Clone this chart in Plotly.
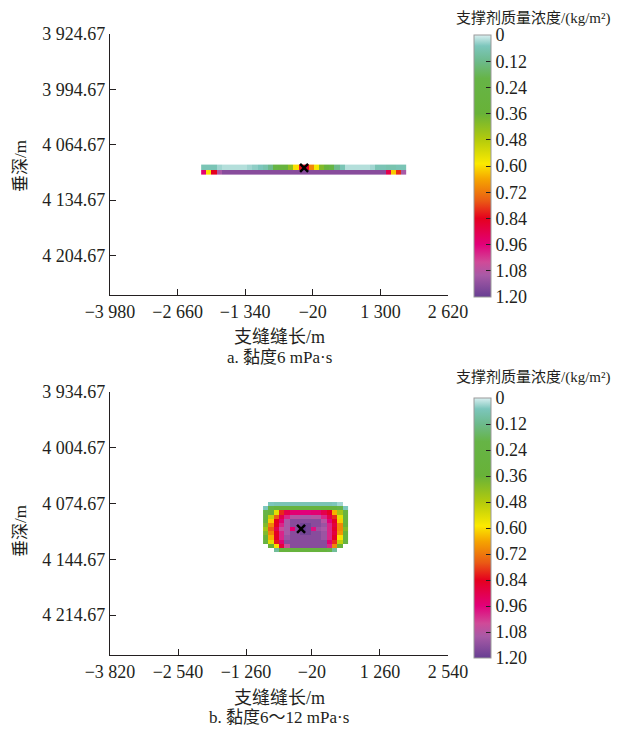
import plotly.graph_objects as go

# ---------------- data ----------------
# (a) viscosity 6 mPa·s : thin band, two cell rows
top_x = [-2150, -2050, -1950, -1850, -1750, -1650, -1550, -1450, -1350, -1250,
         -1150, -1050, -950, -850, -750, -650, -550, -450, -350, -250,
         -150, -50, 50, 150, 250, 350, 450, 550, 650, 750,
         850, 950, 1050, 1150, 1250, 1350, 1450, 1550, 1650, 1750]
top_y = [4093.0, 4099.4]
top_upper = [0.06, 0.06, 0.06, 0.03, 0.02, 0.02, 0.02, 0.02, 0.02, 0.03,
             0.04, 0.05, 0.07, 0.12, 0.22, 0.28, 0.30, 0.42, 0.60, 0.82,
             0.85, 0.70, 0.58, 0.40, 0.30, 0.22, 0.12, 0.06, 0.02, 0.02,
             0.02, 0.02, 0.02, 0.03, 0.06, 0.06, 0.07, 0.07, 0.06, 0.06]
top_lower = [0.95, 0.60, 0.84, 1.10, 1.15, 1.15, 1.15, 1.15, 1.15, 1.15,
             1.15, 1.15, 1.15, 1.15, 1.15, 1.15, 1.15, 1.15, 1.15, 1.15,
             1.15, 1.15, 1.15, 1.15, 1.15, 1.15, 1.15, 1.15, 1.15, 1.15,
             1.15, 1.15, 1.15, 1.15, 1.15, 1.15, 0.90, 0.62, 0.80, 1.10]
top_well_x = [-190]
top_well_y = [4094.0]

# (b) viscosity 6~12 mPa·s : compact blob
bot_x = [-890, -790, -690, -590, -490, -390, -290, -190, -90, 10,
         110, 210, 310, 410, 510, 610]
bot_y = [4075.3, 4080.5, 4085.7, 4090.9, 4096.1, 4101.3, 4106.5, 4111.7,
         4116.9, 4122.1, 4127.3, 4132.5]
N = None
bot_z = [
    [N, 0.05, 0.06, 0.06, 0.06, 0.06, 0.06, 0.06, 0.06, 0.06, 0.06, 0.06, 0.06, 0.05, 0.03, N],
    [0.05, 0.20, 0.30, 0.30, 0.30, 0.28, 0.28, 0.28, 0.28, 0.28, 0.28, 0.30, 0.30, 0.30, 0.20, 0.05],
    [0.20, 0.35, 0.55, 0.80, 0.90, 0.95, 0.95, 0.96, 0.96, 0.95, 0.95, 0.90, 0.85, 0.65, 0.45, 0.25],
    [0.25, 0.50, 0.75, 0.90, 1.00, 1.08, 1.08, 1.10, 1.10, 1.08, 1.08, 1.00, 0.90, 0.80, 0.55, 0.30],
    [0.30, 0.62, 0.84, 0.95, 1.10, 1.15, 1.15, 1.15, 1.15, 1.15, 1.15, 1.08, 0.96, 0.85, 0.62, 0.30],
    [0.40, 0.70, 0.85, 1.00, 1.10, 1.15, 1.15, 1.18, 1.18, 1.15, 1.15, 1.12, 1.00, 0.88, 0.70, 0.35],
    [0.45, 0.75, 0.90, 1.05, 1.10, 0.95, 1.15, 1.20, 1.18, 0.98, 1.12, 1.10, 1.00, 0.86, 0.70, 0.40],
    [0.40, 0.70, 0.85, 1.00, 1.10, 1.15, 1.15, 1.18, 1.18, 1.15, 1.15, 1.12, 1.00, 0.88, 0.68, 0.35],
    [0.35, 0.65, 0.85, 1.00, 1.12, 1.15, 1.15, 1.15, 1.15, 1.15, 1.15, 1.12, 1.00, 0.85, 0.60, 0.30],
    [0.25, 0.55, 0.82, 0.95, 1.15, 1.15, 1.15, 1.15, 1.15, 1.15, 1.15, 1.15, 0.95, 0.80, 0.50, 0.25],
    [N, 0.35, 0.60, 0.88, 1.05, 1.15, 1.15, 1.15, 1.15, 1.15, 1.15, 1.15, 1.00, 0.70, 0.35, N],
    [N, N, 0.10, 0.30, 0.30, 0.30, 0.30, 0.30, 0.30, 0.30, 0.30, 0.30, 0.20, 0.10, N, N],
]
bot_well_x = [-225]
bot_well_y = [4106.5]

# axes ticks
top_xticks = [-3980, -2660, -1340, -20, 1300, 2620]
top_yticks = [3924.67, 3994.67, 4064.67, 4134.67, 4204.67]
bot_xticks = [-3820, -2540, -1260, -20, 1260, 2540]
bot_yticks = [3934.67, 4004.67, 4074.67, 4144.67, 4214.67]
cbar_ticks = [0, 0.12, 0.24, 0.36, 0.48, 0.60, 0.72, 0.84, 0.96, 1.08, 1.20]

# colour stops (concentration -> colour)
conc_stops = [0.0, 0.05, 0.12, 0.20, 0.36, 0.48, 0.59, 0.66, 0.76, 0.84, 0.96, 1.04, 1.10, 1.20]
conc_cols = ["#d9eff0", "#7cc6bc", "#6dba8c", "#66b446", "#68b238", "#b4cb0c", "#fcea00",
             "#f5a500", "#ea5a14", "#e5001e", "#e2007a", "#d04a98", "#a85aa6", "#673e92"]

# ---------------- helpers ----------------
OFF = 8                      # default page body margin
W, H = 619 - OFF, 729 - OFF
FONT = "'Liberation Serif', 'Noto Sans CJK SC', serif"
FS = 18


def fmt(v, dec=0):
    s = f"{abs(v):,.{dec}f}".replace(",", " ")
    return ("\u2212" if v < 0 else "") + s


cmax = 1.2
colorscale = sorted([[round(1 - c / cmax, 4), col] for c, col in zip(conc_stops, conc_cols)])


def neg(mat):
    return [[(None if v is None else -v) for v in row] for row in mat]


def px_x(p):
    return (p - OFF) / W


def px_y(p):
    return 1 - (p - OFF) / H


def cbar(top, bottom):
    return dict(
        x=px_x(474), xanchor="left", y=px_y(top), yanchor="top",
        len=(bottom - top) / H, lenmode="fraction", thickness=17,
        xpad=0, ypad=0, outlinecolor="#9a9a9a", outlinewidth=1,
        tickvals=[-t for t in cbar_ticks],
        ticktext=[f"{t:.2f}" if t else "0" for t in cbar_ticks],
        ticks="inside", ticklen=5, tickcolor="#231f20",
        tickfont=dict(family=FONT, size=FS, color="#231f20"),
    )


fig = go.Figure()

fig.add_trace(go.Heatmap(
    x=top_x, y=top_y, z=neg([top_upper, top_lower]),
    zmin=-cmax, zmax=0, colorscale=colorscale, xaxis="x", yaxis="y",
    colorbar=cbar(35, 297),
))
fig.add_trace(go.Scatter(
    x=top_well_x, y=top_well_y, mode="markers", xaxis="x", yaxis="y",
    marker=dict(symbol="x-thin", size=8, line=dict(width=2.5, color="black"), color="black"),
    showlegend=False,
))

fig.add_trace(go.Heatmap(
    x=bot_x, y=bot_y, z=neg(bot_z),
    zmin=-cmax, zmax=0, colorscale=colorscale, xaxis="x2", yaxis="y2",
    colorbar=cbar(398, 658),
))
fig.add_trace(go.Scatter(
    x=bot_well_x, y=bot_well_y, mode="markers", xaxis="x2", yaxis="y2",
    marker=dict(symbol="x-thin", size=8, line=dict(width=2.5, color="black"), color="black"),
    showlegend=False,
))

axis_common = dict(
    showline=True, linecolor="#231f20", linewidth=1.2, ticks="inside", ticklen=6,
    tickcolor="#231f20", tickwidth=1.2, showgrid=False, zeroline=False, automargin=False,
    tickfont=dict(family=FONT, size=FS, color="#231f20"),
)

fig.update_layout(
    width=W, height=H, margin=dict(l=0, r=0, t=0, b=0, autoexpand=False),
    paper_bgcolor="white", plot_bgcolor="white", showlegend=False,
    xaxis=dict(domain=[px_x(110), px_x(448)], range=[-3980, 2620], anchor="y",
               tickvals=top_xticks, ticktext=[fmt(v) for v in top_xticks], **axis_common),
    yaxis=dict(domain=[px_y(295), px_y(34)], range=[4254.67, 3924.67], anchor="x",
               tickvals=top_yticks, ticktext=[fmt(v, 2) for v in top_yticks], **axis_common),
    xaxis2=dict(domain=[px_x(110), px_x(448)], range=[-3820, 2540], anchor="y2",
                tickvals=bot_xticks, ticktext=[fmt(v) for v in bot_xticks], **axis_common),
    yaxis2=dict(domain=[px_y(655), px_y(392)], range=[4264.67, 3934.67], anchor="x2",
                tickvals=bot_yticks, ticktext=[fmt(v, 2) for v in bot_yticks], **axis_common),
)

ann_font = dict(family=FONT, size=17, color="#231f20")
cb_title_font = dict(family=FONT, size=15, color="#231f20")
anns = [
    dict(x=px_x(613), y=px_y(8.2), yanchor="top", text="支撑剂质量浓度/(kg/m²)",
         xanchor="right", font=cb_title_font),
    dict(x=px_x(613), y=px_y(377), text="支撑剂质量浓度/(kg/m²)", xanchor="right",
         font=cb_title_font),
    dict(x=px_x(20), y=px_y(166), text="垂深/m", textangle=-90),
    dict(x=px_x(20), y=px_y(531), text="垂深/m", textangle=-90),
    dict(x=px_x(279), y=px_y(337), text="支缝缝长/m", font=dict(family=FONT, size=18, color="#231f20")),
    dict(x=px_x(279), y=px_y(698), text="支缝缝长/m", font=dict(family=FONT, size=18, color="#231f20")),
    dict(x=px_x(279), y=px_y(357), text="a. 黏度6 mPa·s"),
    dict(x=px_x(279), y=px_y(717), text="b. 黏度6～12 mPa·s"),
]
for a in anns:
    a.setdefault("xanchor", "center")
    a.setdefault("yanchor", "middle")
    a.setdefault("font", ann_font)
    fig.add_annotation(xref="paper", yref="paper", showarrow=False, **a)

fig.write_html("out.html")
